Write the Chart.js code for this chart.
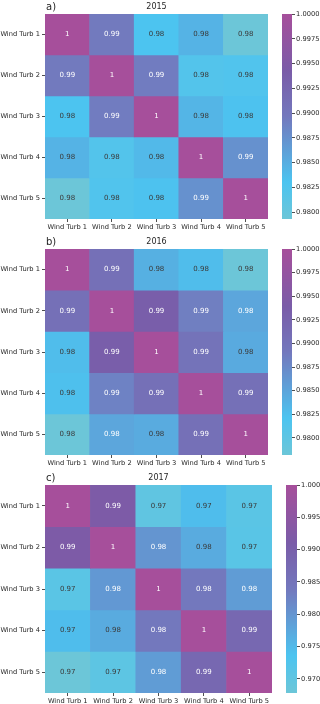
<!DOCTYPE html>
<html>
<head>
<meta charset="utf-8">
<script src="https://cdn.jsdelivr.net/npm/chart.js@4.4.1/dist/chart.umd.min.js"></script>
<style>
  html, body { margin: 0; padding: 0; background: #fff; }
  body { width: 320px; height: 704px; position: relative; overflow: hidden; }
  canvas { position: absolute; }
</style>
</head>
<body>
<script>
// Dati: correlazioni tra turbine, un pannello per anno
const turbines = ["Wind Turb 1", "Wind Turb 2", "Wind Turb 3", "Wind Turb 4", "Wind Turb 5"];
const years = ["2015", "2016", "2017"];
const panelTags = ["a)", "b)", "c)"];

const corr2015 = [
  [1.0,    0.9895, 0.9830, 0.9845, 0.9793],
  [0.9895, 1.0,    0.9893, 0.9822, 0.9825],
  [0.9830, 0.9893, 1.0,    0.9843, 0.9832],
  [0.9845, 0.9822, 0.9840, 1.0,    0.9875],
  [0.9793, 0.9825, 0.9832, 0.9875, 1.0],
];
const corr2016 = [
  [1.0,    0.9905, 0.9840, 0.9828, 0.9782],
  [0.9905, 1.0,    0.9935, 0.9885, 0.9849],
  [0.9828, 0.9935, 1.0,    0.9900, 0.9845],
  [0.9825, 0.9882, 0.9905, 1.0,    0.9905],
  [0.9782, 0.9849, 0.9844, 0.9905, 1.0],
];
const corr2017 = [
  [1.0,    0.9915, 0.9700, 0.9745, 0.9710],
  [0.9915, 1.0,    0.9800, 0.9770, 0.9712],
  [0.9710, 0.9795, 1.0,    0.9840, 0.9790],
  [0.9745, 0.9770, 0.9840, 1.0,    0.9880],
  [0.9678, 0.9705, 0.9790, 0.9880, 1.0],
];

const cbarTicks2015 = [1.0, 0.9975, 0.995, 0.9925, 0.99, 0.9875, 0.985, 0.9825, 0.98];
const cbarTicks2016 = [1.0, 0.9975, 0.995, 0.9925, 0.99, 0.9875, 0.985, 0.9825, 0.98];
const cbarTicks2017 = [1.0, 0.995, 0.99, 0.985, 0.98, 0.975, 0.97];
const cbarDecimals = [4, 4, 3];

const matrices = [corr2015, corr2016, corr2017];
const cbarTicks = [cbarTicks2015, cbarTicks2016, cbarTicks2017];

// Mappa colori: turchese -> azzurro -> viola -> magenta
const CMAP = [
  [0.00, [108, 198, 216]],
  [0.18, [76, 196, 240]],
  [0.50, [115, 120, 189]],
  [0.72, [122, 92, 168]],
  [1.00, [166, 79, 155]],
];
function cmapAt(t) {
  t = Math.max(0, Math.min(1, t));
  for (let i = 1; i < CMAP.length; i++) {
    if (t <= CMAP[i][0]) {
      const [t0, c0] = CMAP[i - 1];
      const [t1, c1] = CMAP[i];
      const f = (t - t0) / (t1 - t0);
      const c = c0.map((v, k) => Math.round(v + f * (c1[k] - v)));
      return `rgb(${c[0]},${c[1]},${c[2]})`;
    }
  }
  const c = CMAP[CMAP.length - 1][1];
  return `rgb(${c[0]},${c[1]},${c[2]})`;
}

// Impaginazione dei pannelli
const FONT = "'DejaVu Sans', sans-serif";
const TXT = "#262626";
const panelTop = [0, 235, 471];
const canvasH = [235, 236, 233];
const heatTop = 14;
const heatH = [205, 206, 208];
const plotLeft = 45;
const plotRight = [268, 268, 272];
const cbarLeft = [282, 282, 286];
const cbarWidth = [10, 10, 11];

function addCanvas(left, top, w, h) {
  const c = document.createElement("canvas");
  c.width = w; c.height = h;
  c.style.left = left + "px"; c.style.top = top + "px";
  c.style.width = w + "px"; c.style.height = h + "px";
  document.body.appendChild(c);
  return c;
}

function disegnaPannello(p) {
  const mat = matrices[p];
  const vmin = Math.min(...mat.flat());
  const pos = (v) => (v - vmin) / (1 - vmin);

  // Heatmap come barre fluttuanti: una serie per riga
  const datasets = mat.map((row, r) => ({
    label: turbines[r],
    data: row.map(() => [r, r + 1]),
    backgroundColor: row.map((v) => cmapAt(pos(v))),
    borderWidth: 0,
    barPercentage: 1,
    categoryPercentage: 1,
    grouped: false,
  }));

  const annotazioni = {
    id: "annotazioni",
    afterDatasetsDraw(chart) {
      const { ctx, scales } = chart;
      ctx.save();
      ctx.font = `7px ${FONT}`;
      ctx.textAlign = "center";
      ctx.textBaseline = "middle";
      mat.forEach((row, r) => {
        row.forEach((v, c) => {
          const x = scales.x.getPixelForValue(c);
          const y = scales.y.getPixelForValue(r + 0.5);
          ctx.fillStyle = pos(v) >= 0.3 ? "#ffffff" : "#3a3a3a";
          ctx.fillText(String(Number(v.toPrecision(2))), x, y);
        });
      });
      ctx.restore();
    },
  };

  const titoli = {
    id: "titoli",
    afterDraw(chart) {
      const { ctx, chartArea } = chart;
      ctx.save();
      ctx.fillStyle = TXT;
      ctx.textBaseline = "middle";
      ctx.textAlign = "left";
      ctx.font = `10px ${FONT}`;
      ctx.fillText(panelTags[p], chartArea.left + 1, chartArea.top - 7);
      ctx.textAlign = "center";
      ctx.font = `8px ${FONT}`;
      ctx.fillText(years[p], (chartArea.left + chartArea.right) / 2, chartArea.top - 7);
      ctx.restore();
    },
  };

  const hCanvas = addCanvas(0, panelTop[p], plotRight[p], canvasH[p]);
  new Chart(hCanvas.getContext("2d"), {
    type: "bar",
    data: { labels: turbines, datasets },
    options: {
      responsive: false,
      animation: false,
      layout: { padding: { top: heatTop, right: 0, left: 0, bottom: 0 } },
      plugins: { legend: { display: false }, tooltip: { enabled: false }, title: { display: false } },
      scales: {
        x: {
          offset: true,
          border: { display: false },
          grid: { offset: false, drawOnChartArea: false, drawTicks: true, tickLength: 3, color: "#222", lineWidth: 0.8 },
          ticks: { font: { family: FONT, size: 6.7 }, color: TXT, padding: 1, maxRotation: 0, autoSkip: false },
          afterFit: (s) => { s.height = canvasH[p] - heatTop - heatH[p]; },
        },
        y: {
          type: "linear",
          min: 0,
          max: 5,
          reverse: true,
          border: { display: false },
          grid: { drawOnChartArea: false, drawTicks: true, tickLength: 3, color: "#222", lineWidth: 0.8 },
          afterBuildTicks: (s) => { s.ticks = turbines.map((_, i) => ({ value: i + 0.5 })); },
          ticks: {
            font: { family: FONT, size: 6.7 },
            color: TXT,
            padding: 2,
            callback: (v, i) => turbines[i],
          },
          afterFit: (s) => { s.width = plotLeft; },
        },
      },
    },
    plugins: [annotazioni, titoli],
  });

  // Barra dei colori
  const cbOrigin = 270;
  const cbW = 320 - cbOrigin;
  const cCanvas = addCanvas(cbOrigin, panelTop[p], cbW, canvasH[p]);
  const ticks = cbarTicks[p];
  new Chart(cCanvas.getContext("2d"), {
    type: "bar",
    data: {
      labels: [""],
      datasets: [{
        data: [[vmin, 1]],
        borderWidth: 0,
        barPercentage: 1,
        categoryPercentage: 1,
        backgroundColor: (context) => {
          const chart = context.chart;
          if (!chart.chartArea) return cmapAt(0.5);
          const ys = chart.scales.y;
          const g = chart.ctx.createLinearGradient(0, ys.getPixelForValue(vmin), 0, ys.getPixelForValue(1));
          CMAP.forEach(([t]) => g.addColorStop(t, cmapAt(t)));
          return g;
        },
      }],
    },
    options: {
      responsive: false,
      animation: false,
      layout: {
        padding: {
          top: heatTop,
          left: cbarLeft[p] - cbOrigin,
          bottom: canvasH[p] - heatTop - heatH[p],
          right: 0,
        },
      },
      plugins: { legend: { display: false }, tooltip: { enabled: false } },
      scales: {
        x: { display: false },
        y: {
          position: "right",
          min: vmin,
          max: 1,
          border: { display: false },
          grid: { drawOnChartArea: false, drawTicks: true, tickLength: 3, color: "#222", lineWidth: 0.8 },
          afterBuildTicks: (s) => { s.ticks = ticks.map((v) => ({ value: v })); },
          ticks: {
            font: { family: FONT, size: 6.7 },
            color: TXT,
            padding: 1,
            callback: (v) => Number(v).toFixed(cbarDecimals[p]),
          },
          afterFit: (s) => { s.width = cbW - (cbarLeft[p] - cbOrigin) - cbarWidth[p]; },
        },
      },
    },
  });
}

[0, 1, 2].forEach(disegnaPannello);
</script>
</body>
</html>
